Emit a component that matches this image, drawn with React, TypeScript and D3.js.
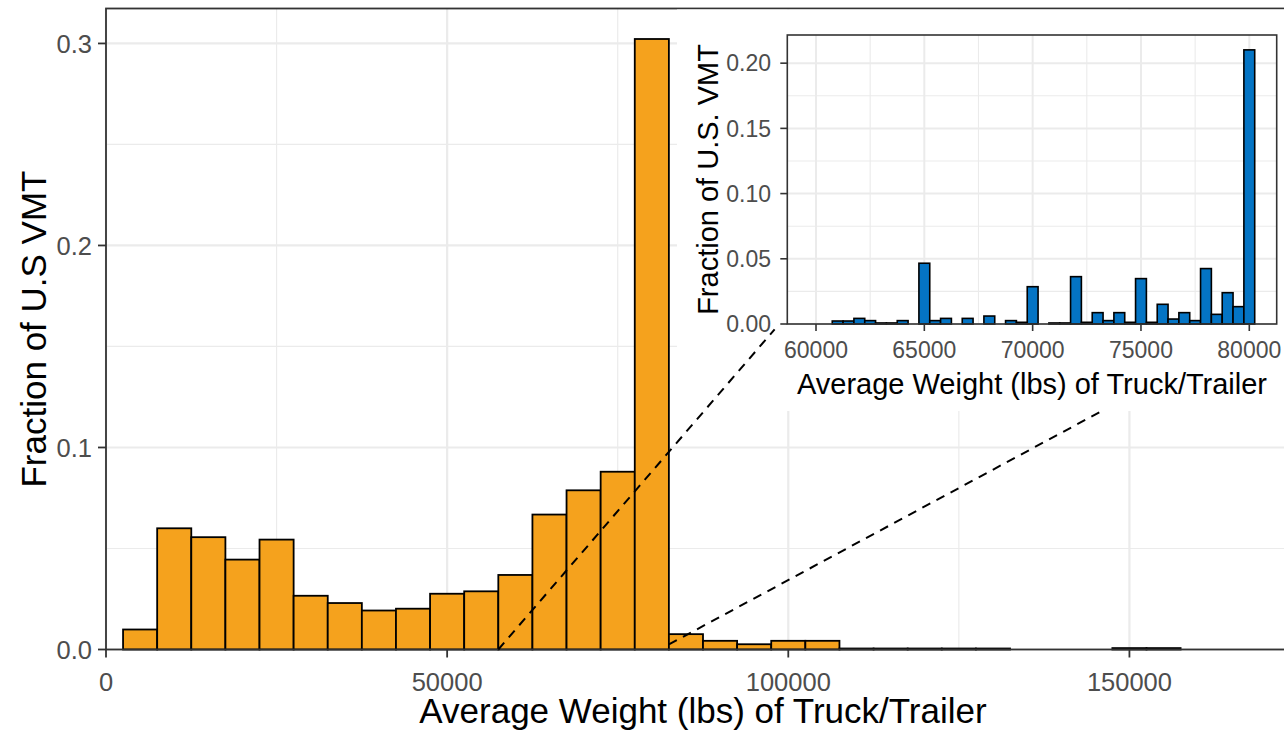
import React from "react";
import * as d3 from "d3";

// ---------- Data ----------
// Main histogram: bin centres (lbs), bin width 5000
const mainBinCenters = [
  5000, 10000, 15000, 20000, 25000, 30000, 35000, 40000, 45000, 50000,
  55000, 60000, 65000, 70000, 75000, 80000, 85000, 90000, 95000, 100000,
  105000, 110000, 115000, 120000, 125000, 130000, 150000, 155000,
];
const mainFractions = [
  0.0099, 0.0600, 0.0556, 0.0445, 0.0544, 0.0266, 0.0230, 0.0193, 0.0202, 0.0276,
  0.0288, 0.0369, 0.0668, 0.0788, 0.0880, 0.3022, 0.0076, 0.0043, 0.0026, 0.0043,
  0.0043, 0.0005, 0.0005, 0.0005, 0.0005, 0.0005, 0.0007, 0.0007,
];
const mainBinWidth = 5000;

// Inset histogram: bin centres (lbs), bin width 500
const insetBinCenters = [
  61000, 61500, 62000, 62500, 63000, 63500, 64000, 65000, 65500, 66000,
  67000, 68000, 69000, 69500, 70000, 71000, 71500, 72000, 72500, 73000,
  73500, 74000, 74500, 75000, 75500, 76000, 76500, 77000, 77500, 78000,
  78500, 79000, 79500, 80000,
];
const insetFractions = [
  0.0023, 0.0023, 0.0043, 0.0026, 0.0008, 0.0008, 0.0026, 0.0466, 0.0026, 0.0043,
  0.0043, 0.0061, 0.0026, 0.0013, 0.0286, 0.0008, 0.0008, 0.0363, 0.0013, 0.0087,
  0.0026, 0.0087, 0.0013, 0.0348, 0.0013, 0.0151, 0.0038, 0.0087, 0.0026, 0.0425,
  0.0074, 0.0240, 0.0133, 0.2102,
];
const insetBinWidth = 500;

const mainXTicks = [0, 50000, 100000, 150000];
const mainXMinor = [25000, 75000, 125000, 175000];
const mainYTicks = [0.0, 0.1, 0.2, 0.3];
const mainYMinor = [0.05, 0.15, 0.25];
const insetXTicks = [60000, 65000, 70000, 75000, 80000];
const insetXMinor = [62500, 67500, 72500, 77500];
const insetYTicks = [0.0, 0.05, 0.1, 0.15, 0.2];
const insetYMinor = [0.025, 0.075, 0.125, 0.175];

// zoom connector lines (data coords of main plot)
const connectors = [
  { x1: 57500, y1: 0.0, x2: 98000, y2: 0.1585 },
  { x1: 82500, y1: 0.0025, x2: 145800, y2: 0.1178 },
];

const xTitle = "Average Weight (lbs) of Truck/Trailer";
const yTitleMain = "Fraction of U.S VMT";
const yTitleInset = "Fraction of U.S. VMT";

const ORANGE = "#F5A21D";
const BLUE = "#0474C4";
const GRID = "#EBEBEB";
const BORDER = "#333333";
const TICKTXT = "#4D4D4D";
const FONT = "'Liberation Sans', Arial, Helvetica, sans-serif";

export default function App() {
  const W = 1284;
  const H = 731;

  // main panel
  const mL = 106, mR = 1300, mT = 8.5, mB = 649.5;
  const x = d3.scaleLinear().domain([0, 175000]).range([mL, mR]);
  const y = d3.scaleLinear().domain([0, 0.3173]).range([mB, mT]);

  // inset panel
  const iL = 787.3, iR = 1276.7, iT = 35, iB = 324;
  const xi = d3.scaleLinear().domain([58675, 81265]).range([iL, iR]);
  const yi = d3.scaleLinear().domain([0, 0.2216]).range([iB, iT]);

  const fmtMain = (v: number) => d3.format(".1f")(v);
  const fmtInset = (v: number) => d3.format(".2f")(v);

  return (
    <svg
      width={W}
      height={H}
      style={{ position: "absolute", left: 0, top: 0, background: "#fff" }}
      fontFamily={FONT}
    >
      <rect x={0} y={0} width={W} height={H} fill="#fff" />
      {/* main grid */}
      <g>
        {mainYMinor.map((v) => (
          <line key={"ym" + v} x1={mL} x2={mR} y1={y(v)} y2={y(v)} stroke={GRID} strokeWidth={1.2} />
        ))}
        {mainXMinor.map((v) => (
          <line key={"xm" + v} x1={x(v)} x2={x(v)} y1={mT} y2={mB} stroke={GRID} strokeWidth={1.2} />
        ))}
        {mainYTicks.map((v) => (
          <line key={"yM" + v} x1={mL} x2={mR} y1={y(v)} y2={y(v)} stroke={GRID} strokeWidth={2.2} />
        ))}
        {mainXTicks.map((v) => (
          <line key={"xM" + v} x1={x(v)} x2={x(v)} y1={mT} y2={mB} stroke={GRID} strokeWidth={2.2} />
        ))}
      </g>
      {/* main bars */}
      <g>
        {mainBinCenters.map((c, i) => (
          <rect
            key={"b" + c}
            x={x(c - mainBinWidth / 2)}
            y={y(mainFractions[i])}
            width={x(c + mainBinWidth / 2) - x(c - mainBinWidth / 2)}
            height={y(0) - y(mainFractions[i])}
            fill={ORANGE}
            stroke="#000"
            strokeWidth={1.8}
          />
        ))}
      </g>
      {/* main panel border */}
      <rect x={mL} y={mT} width={mR - mL} height={mB - mT} fill="none" stroke={BORDER} strokeWidth={1.8} />
      {/* main ticks */}
      {mainXTicks.map((v) => (
        <g key={"xt" + v}>
          <line x1={x(v)} x2={x(v)} y1={mB} y2={mB + 8} stroke={BORDER} strokeWidth={1.8} />
          <text x={x(v)} y={691} textAnchor="middle" fontSize={25.5} fill={TICKTXT}>
            {v}
          </text>
        </g>
      ))}
      {mainYTicks.map((v) => (
        <g key={"yt" + v}>
          <line x1={mL - 8} x2={mL} y1={y(v)} y2={y(v)} stroke={BORDER} strokeWidth={1.8} />
          <text x={92} y={y(v)} dy="0.36em" textAnchor="end" fontSize={25.5} fill={TICKTXT}>
            {fmtMain(v)}
          </text>
        </g>
      ))}
      <text x={(mL + mR) / 2} y={723} textAnchor="middle" fontSize={35} fill="#000">
        {xTitle}
      </text>
      <text
        transform={`translate(46, ${(mT + mB) / 2}) rotate(-90)`}
        textAnchor="middle"
        fontSize={35}
        fill="#000"
      >
        {yTitleMain}
      </text>

      {/* inset background */}
      <rect x={677} y={mT + 1} width={W - 677} height={411 - mT - 1} fill="#fff" />
      {/* inset grid */}
      <g>
        {insetYMinor.map((v) => (
          <line key={"iym" + v} x1={iL} x2={iR} y1={yi(v)} y2={yi(v)} stroke={GRID} strokeWidth={1.1} />
        ))}
        {insetXMinor.map((v) => (
          <line key={"ixm" + v} x1={xi(v)} x2={xi(v)} y1={iT} y2={iB} stroke={GRID} strokeWidth={1.1} />
        ))}
        {insetYTicks.map((v) => (
          <line key={"iyM" + v} x1={iL} x2={iR} y1={yi(v)} y2={yi(v)} stroke={GRID} strokeWidth={2} />
        ))}
        {insetXTicks.map((v) => (
          <line key={"ixM" + v} x1={xi(v)} x2={xi(v)} y1={iT} y2={iB} stroke={GRID} strokeWidth={2} />
        ))}
      </g>
      {/* inset bars */}
      <g>
        {insetBinCenters.map((c, i) => (
          <rect
            key={"ib" + c}
            x={xi(c - insetBinWidth / 2)}
            y={yi(insetFractions[i])}
            width={xi(c + insetBinWidth / 2) - xi(c - insetBinWidth / 2)}
            height={yi(0) - yi(insetFractions[i])}
            fill={BLUE}
            stroke="#000"
            strokeWidth={1.6}
          />
        ))}
      </g>
      <rect x={iL} y={iT} width={iR - iL} height={iB - iT} fill="none" stroke={BORDER} strokeWidth={1.6} />
      {insetXTicks.map((v) => (
        <g key={"ixt" + v}>
          <line x1={xi(v)} x2={xi(v)} y1={iB} y2={iB + 7} stroke={BORDER} strokeWidth={1.6} />
          <text x={xi(v)} y={358} textAnchor="middle" fontSize={23} fill={TICKTXT}>
            {v}
          </text>
        </g>
      ))}
      {insetYTicks.map((v) => (
        <g key={"iyt" + v}>
          <line x1={iL - 7} x2={iL} y1={yi(v)} y2={yi(v)} stroke={BORDER} strokeWidth={1.6} />
          <text x={771} y={yi(v)} dy="0.36em" textAnchor="end" fontSize={23} fill={TICKTXT}>
            {fmtInset(v)}
          </text>
        </g>
      ))}
      <text x={(iL + iR) / 2} y={394} textAnchor="middle" fontSize={29} fill="#000">
        {xTitle}
      </text>
      <text
        transform={`translate(718, ${(iT + iB) / 2}) rotate(-90)`}
        textAnchor="middle"
        fontSize={29}
        fill="#000"
      >
        {yTitleInset}
      </text>

      {/* connector lines */}
      {connectors.map((c, i) => (
        <line
          key={"c" + i}
          x1={x(c.x1)}
          y1={y(c.y1)}
          x2={x(c.x2)}
          y2={y(c.y2)}
          stroke="#000"
          strokeWidth={2}
          strokeDasharray="9,7"
        />
      ))}
    </svg>
  );
}
